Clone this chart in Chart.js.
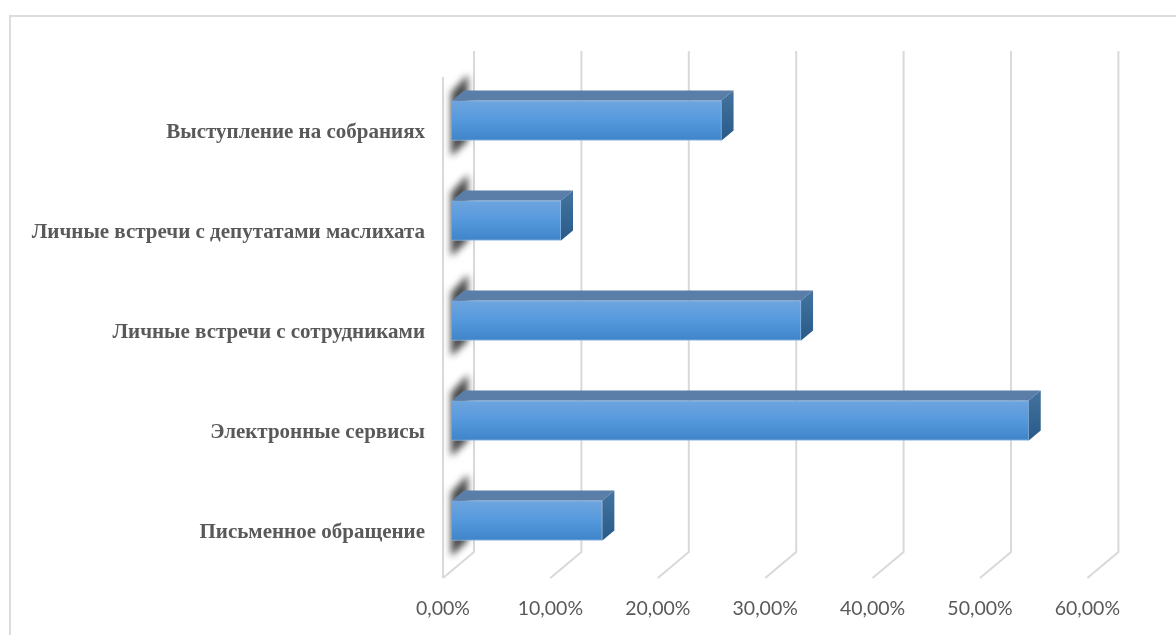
<!DOCTYPE html>
<html>
<head>
<meta charset="utf-8">
<script src="https://cdn.jsdelivr.net/npm/chart.js@4"></script>
<style>
html, body { margin: 0; padding: 0; background: #fff; }
#wrap { position: relative; width: 1176px; height: 635px; overflow: hidden; }
#frame { position: absolute; left: 9px; top: 15px; width: 1167px; height: 620px; border-top: 2px solid #dcdcdc; border-left: 2px solid #dcdcdc; box-sizing: border-box; }
canvas { position: absolute; left: 0; top: 0; }
</style>
</head>
<body>
<div id="wrap">
<div id="frame"></div>
<canvas id="chart" width="1176" height="635"></canvas>
</div>
<script>
var categories = [
    'Выступление на собраниях',
    'Личные встречи с депутатами маслихата',
    'Личные встречи с сотрудниками',
    'Электронные сервисы',
    'Письменное обращение'
];
var shares = [25.1, 10.15, 32.5, 53.7, 14.0];
var tickValues = [0, 10, 20, 30, 40, 50, 60];

// offsets of the fake 3D box, relative to the scale pixel of a value
var wallBack = 22, wallFront = -9;
var floorFront = 578, floorBack = 552, wallHeight = 501;
var barDepthX = 12, barDepthY = 10;

var fake3d = {
    id: 'fake3d',
    beforeDatasetsDraw: function (chart) {
        var ctx = chart.ctx;
        var xs = chart.scales.x;
        ctx.save();

        // walls and floor lines
        ctx.strokeStyle = '#d9d9d9';
        ctx.lineWidth = 2;
        tickValues.forEach(function (v) {
            var px = xs.getPixelForValue(v);
            ctx.beginPath();
            ctx.moveTo(px + wallFront, floorFront);
            ctx.lineTo(px + wallBack, floorBack);
            ctx.lineTo(px + wallBack, floorBack - wallHeight);
            ctx.stroke();
        });
        var x0 = xs.getPixelForValue(0) + wallFront;
        ctx.beginPath();
        ctx.moveTo(x0, floorFront);
        ctx.lineTo(x0, floorFront - wallHeight);
        ctx.stroke();

        // blurry shadow behind the start of each bar
        var bars = chart.getDatasetMeta(0).data;
        ctx.filter = 'blur(3.5px)';
        ctx.fillStyle = '#4a4a4a';
        bars.forEach(function (bar) {
            var l = bar.base, t = bar.y - 20;
            ctx.beginPath();
            ctx.moveTo(l - 1, t + 56);
            ctx.lineTo(l - 1, t - 8);
            ctx.lineTo(l + 16, t - 26);
            ctx.lineTo(l + 16, t + 40);
            ctx.closePath();
            ctx.fill();
        });
        ctx.filter = 'none';
        ctx.restore();
    },
    afterDatasetsDraw: function (chart) {
        var ctx = chart.ctx;
        ctx.save();
        chart.getDatasetMeta(0).data.forEach(function (bar) {
            var l = bar.base, r = bar.x, t = bar.y - 20, b = bar.y + 20;

            ctx.fillStyle = '#5a7ea8';
            ctx.beginPath();
            ctx.moveTo(l, t);
            ctx.lineTo(l + barDepthX, t - barDepthY);
            ctx.lineTo(r + barDepthX, t - barDepthY);
            ctx.lineTo(r, t);
            ctx.closePath();
            ctx.fill();

            var side = ctx.createLinearGradient(0, t - barDepthY, 0, b);
            side.addColorStop(0, '#44739f');
            side.addColorStop(1, '#2a5a88');
            ctx.fillStyle = side;
            ctx.beginPath();
            ctx.moveTo(r, t);
            ctx.lineTo(r + barDepthX, t - barDepthY);
            ctx.lineTo(r + barDepthX, b - barDepthY);
            ctx.lineTo(r, b);
            ctx.closePath();
            ctx.fill();
        });
        ctx.restore();
    }
};

new Chart(document.getElementById('chart').getContext('2d'), {
    type: 'bar',
    data: {
        labels: categories,
        datasets: [{
            data: shares,
            barThickness: 40,
            borderWidth: 1,
            borderColor: '#8fbbe6',
            backgroundColor: function (c) {
                var chart = c.chart;
                if (!chart.chartArea) return '#5599dd';
                var y = chart.scales.y.getPixelForValue(c.dataIndex);
                var g = chart.ctx.createLinearGradient(0, y - 20, 0, y + 20);
                g.addColorStop(0, '#6fa5de');
                g.addColorStop(0.5, '#5599dd');
                g.addColorStop(1, '#3f84c8');
                return g;
            }
        }]
    },
    options: {
        indexAxis: 'y',
        responsive: false,
        animation: false,
        layout: { padding: { top: 70.5, right: 79.6, left: 0, bottom: 0 } },
        plugins: { legend: { display: false }, tooltip: { enabled: false } },
        scales: {
            x: {
                min: 0,
                max: 60,
                afterBuildTicks: function (scale) {
                    scale.ticks = tickValues.map(function (v) { return { value: v }; });
                },
                afterFit: function (scale) { scale.height = 64.5; },
                grid: { display: false },
                border: { display: false },
                ticks: {
                    padding: 19,
                    labelOffset: -9,
                    maxRotation: 0,
                    color: '#595959',
                    font: { family: 'Lato', size: 19.5 },
                    callback: function (v) { return v.toFixed(2).replace('.', ',') + '%'; }
                }
            },
            y: {
                afterFit: function (scale) { scale.width = 452; },
                grid: { display: false },
                border: { display: false },
                ticks: {
                    padding: 19,
                    labelOffset: 12,
                    color: '#595959',
                    font: { family: 'Liberation Serif', size: 21, weight: 'bold' }
                }
            }
        }
    },
    plugins: [fake3d]
});
</script>
</body>
</html>
